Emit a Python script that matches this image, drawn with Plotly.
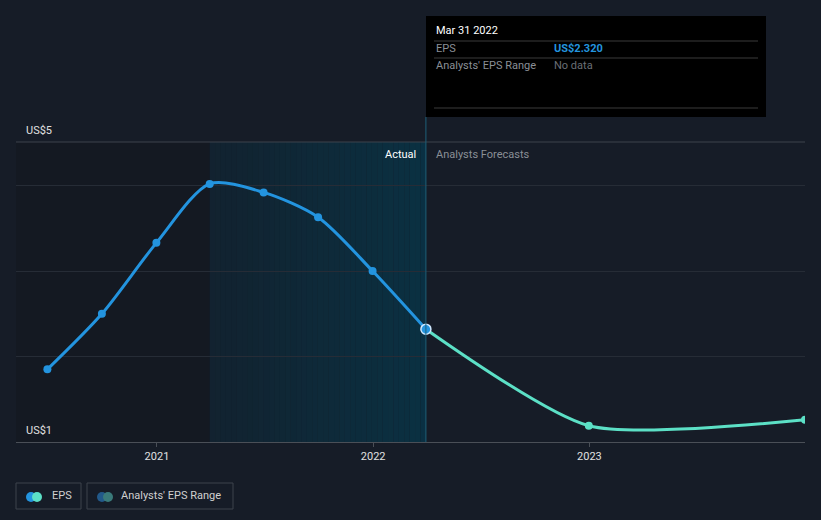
import plotly.graph_objects as go
import pandas as pd

# ---- data ----
actual_dates = ["2020-06-30", "2020-09-30", "2020-12-31", "2021-03-31",
                "2021-06-30", "2021-09-30", "2021-12-31", "2022-03-31"]
actual_eps = [1.85, 2.50, 3.33, 4.02, 3.92, 3.63, 3.00, 2.32]

forecast_dates = ["2022-03-31", "2022-12-31", "2023-12-31"]
forecast_eps = [2.32, 1.19, 1.26]

tick_dates = ["2021-01-01", "2022-01-01", "2023-01-01"]
tick_labels = ["2021", "2022", "2023"]

x_range = ["2020-05-08", "2023-12-31"]
y_range = [1.0, 4.51]

past_start = "2021-03-31"
today = "2022-03-31"

BG = "#161c27"
BLUE = "#2394df"
AQUA = "#5ce0c6"

W, H = 821, 520
ML, MR, MT, MB = 16, 16, 142, 78
PW, PH = W - ML - MR, H - MT - MB


def px(x):
    return (x - ML) / PW


def py(y):
    return (H - MB - y) / PH


fig = go.Figure()

fig.add_trace(go.Scatter(
    x=forecast_dates, y=forecast_eps, mode="lines+markers",
    line=dict(color=AQUA, width=3, shape="spline", smoothing=0.65),
    marker=dict(size=8, color=AQUA), hoverinfo="skip", showlegend=False))

fig.add_trace(go.Scatter(
    x=actual_dates, y=actual_eps, mode="lines+markers",
    line=dict(color=BLUE, width=3, shape="spline", smoothing=0.8),
    marker=dict(size=8, color=BLUE), hoverinfo="skip", showlegend=False))

# highlighted point
fig.add_trace(go.Scatter(
    x=[actual_dates[-1]], y=[actual_eps[-1]], mode="markers",
    marker=dict(size=10, color=BLUE, line=dict(color="#cfe8ff", width=1.5)),
    hoverinfo="skip", showlegend=False))

shapes = []
# darker past region
shapes.append(dict(type="rect", xref="x", yref="y", x0=x_range[0], x1=past_start,
                   y0=y_range[0], y1=y_range[1], fillcolor="#12161e", opacity=0.5,
                   line=dict(width=0), layer="below"))
# teal gradient region
edges = pd.date_range(past_start, today, periods=41)
for i in range(40):
    a = 0.3 + 0.65 * i / 39
    shapes.append(dict(type="rect", xref="x", yref="y", x0=edges[i], x1=edges[i + 1],
                       y0=y_range[0], y1=y_range[1],
                       fillcolor=f"rgba(10,50,68,{a:.3f})", line=dict(width=0), layer="below"))
# top line
shapes.append(dict(type="line", xref="paper", yref="paper", x0=0, x1=1, y0=1, y1=1,
                   line=dict(color="#3c424c", width=1)))
# today line
shapes.append(dict(type="line", xref="x", yref="paper", x0=today, x1=today, y0=0, y1=py(117),
                   line=dict(color="#1e5e78", width=1)))
# tooltip
shapes.append(dict(type="rect", xref="paper", yref="paper", x0=px(426), x1=px(766),
                   y0=py(117), y1=py(16), fillcolor="#000000", line=dict(width=0)))
for yy in (41, 58, 108):
    shapes.append(dict(type="line", xref="paper", yref="paper", x0=px(434), x1=px(758),
                       y0=py(yy), y1=py(yy), line=dict(color="#3a3a3a", width=1)))
# legend boxes
for x0, x1 in ((16, 81), (87, 233)):
    shapes.append(dict(type="rect", xref="paper", yref="paper", x0=px(x0), x1=px(x1),
                       y0=py(509), y1=py(483), line=dict(color="#3c424c", width=1),
                       fillcolor="rgba(0,0,0,0)"))
# legend dots
r = 5
for cx, col in ((31, BLUE), (37, AQUA), (102, "#22598a"), (108, "#3a7a7a")):
    shapes.append(dict(type="circle", xref="paper", yref="paper",
                       x0=px(cx - r), x1=px(cx + r), y0=py(497 + r), y1=py(497 - r),
                       fillcolor=col, line=dict(width=0)))

ann = []


def text(x, y, s, color="#ffffff", size=11, xanchor="left", bold=False):
    ann.append(dict(xref="paper", yref="paper", x=px(x), y=py(y),
                    text=(f"<b>{s}</b>" if bold else s),
                    showarrow=False, xanchor=xanchor, yanchor="middle",
                    font=dict(color=color, size=size)))


text(24, 130, "US$5", "#e0e0e0", 11)
text(24, 430, "US$1", "#e0e0e0", 11)
text(418, 154, "Actual", "#ffffff", 11, "right")
text(434, 154, "Analysts Forecasts", "#8a8f96", 11)
text(434, 31, "Mar 31 2022", "#ffffff", 11)
text(434, 49, "EPS", "#8a8f96", 11)
text(552, 49, "US$2.320", "#2394df", 11, bold=True)
text(434, 66, "Analysts' EPS Range", "#8a8f96", 11)
text(552, 66, "No data", "#6a6f76", 11)
text(50, 495, "EPS", "#d0d0d0", 11)
text(119, 495, "Analysts' EPS Range", "#d0d0d0", 11)

fig.update_layout(
    width=W, height=H, margin=dict(l=ML, r=MR, t=MT, b=MB),
    paper_bgcolor=BG, plot_bgcolor=BG,
    font=dict(family="Roboto, sans-serif", color="#ffffff", size=11),
    shapes=shapes, annotations=ann, showlegend=False,
    xaxis=dict(type="date", range=x_range, tickvals=tick_dates, ticktext=tick_labels,
               showgrid=False, zeroline=False, showline=True, linecolor="#4a4f57",
               ticks="outside", ticklen=4, tickcolor="#4a4f57",
               tickfont=dict(color="#e0e0e0", size=11)),
    yaxis=dict(range=y_range, tickvals=[2, 3, 4], showticklabels=False,
               showgrid=True, gridcolor="#262c36", zeroline=False, showline=False),
)

fig.write_html("out.html", config={"displayModeBar": False},
               post_script="document.body.style.margin='0';document.body.style.background='" + BG + "';")
